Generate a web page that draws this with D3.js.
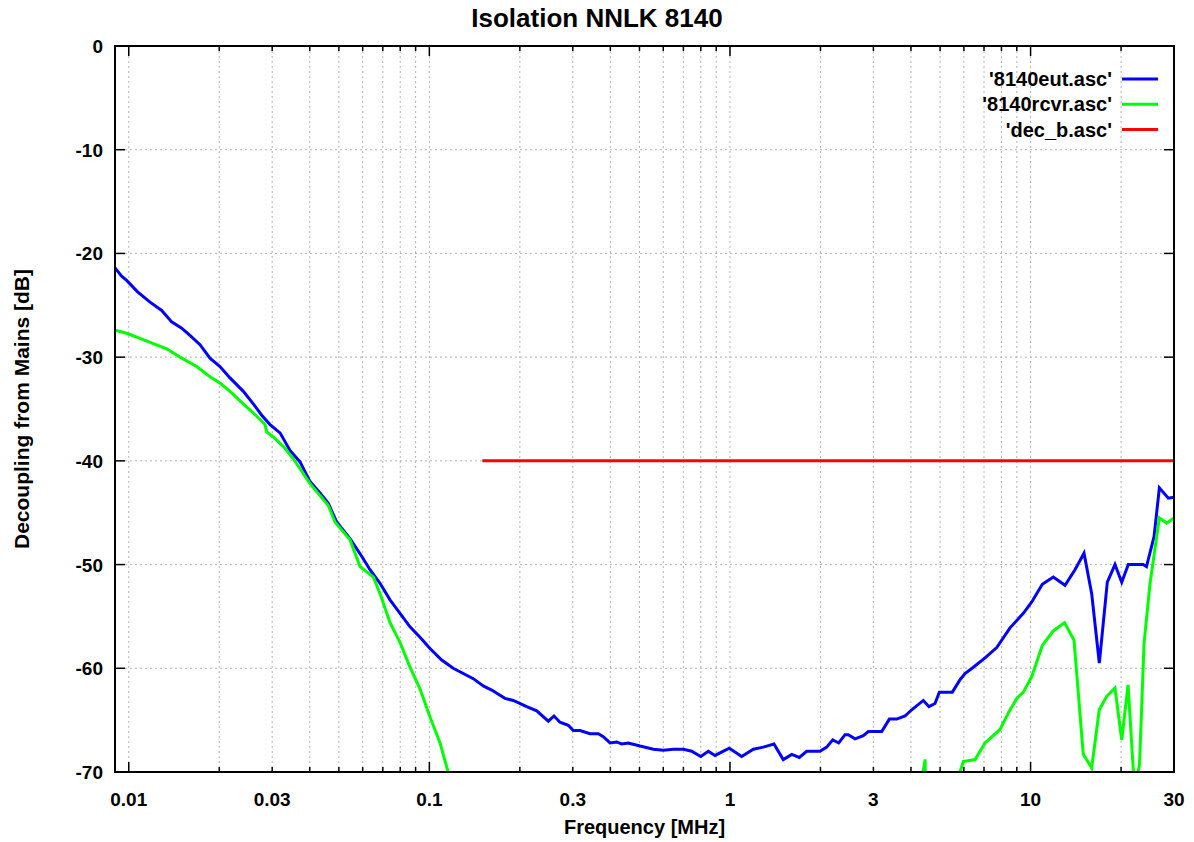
<!DOCTYPE html>
<html>
<head>
<meta charset="utf-8">
<script src="https://cdn.jsdelivr.net/npm/d3@7"></script>
<style>
  body { margin: 0; background: #fff; }
  text { font-family: "Liberation Sans", Arial, sans-serif; font-weight: bold; fill: #000; }
</style>
</head>
<body>
<div id="chart"></div>
<script>
// ---- data (frequency in MHz, level in dB) ----
const eutFreq = [0.009, 0.00947, 0.00984, 0.0107, 0.01177, 0.01287, 0.01389, 0.0150, 0.01598, 0.01726,
  0.01863, 0.02011, 0.02172, 0.02405, 0.02596, 0.02769, 0.02951, 0.03186, 0.03439, 0.03713,
  0.04009, 0.04328, 0.04612, 0.04918, 0.05445, 0.05955, 0.06346, 0.06852, 0.07398, 0.07987,
  0.08622, 0.09309, 0.1005, 0.1099, 0.1201, 0.1400, 0.1511, 0.1612, 0.1784, 0.1902,
  0.2108, 0.2276, 0.2487, 0.2598, 0.2720, 0.2899, 0.3012, 0.3170, 0.3422, 0.3648,
  0.3790, 0.3990, 0.4200, 0.4364, 0.4590, 0.5022, 0.5559, 0.6002, 0.6479, 0.6995,
  0.7461, 0.7993, 0.8472, 0.8917, 0.9949, 1.094, 1.196, 1.291, 1.401, 1.504,
  1.605, 1.701, 1.800, 1.993, 2.098, 2.197, 2.300, 2.414, 2.476, 2.606,
  2.777, 2.886, 3.198, 3.390, 3.587, 3.822, 4.023, 4.397, 4.594, 4.810,
  4.971, 5.492, 5.825, 6.052, 6.450, 7.055, 7.717, 8.543, 9.459, 10.09,
  10.94, 11.90, 13.02, 14.05, 15.06, 15.97, 16.93, 18.00, 19.09, 20.10,
  21.14, 23.7, 24.3, 25.75, 26.82, 28.72, 30];
const eutDb = [-21.4, -22.2, -22.6, -23.7, -24.7, -25.5, -26.6, -27.2, -27.9, -28.8,
  -30.1, -30.9, -32.0, -33.3, -34.5, -35.6, -36.5, -37.3, -39.0, -40.1,
  -42.0, -43.1, -44.1, -45.9, -47.5, -49.2, -50.5, -51.8, -53.4, -54.7,
  -56.0, -57.0, -58.1, -59.2, -60.0, -61.0, -61.7, -62.1, -62.9, -63.1,
  -63.7, -64.1, -65.1, -64.6, -65.2, -65.5, -66.0, -66.0, -66.3, -66.3,
  -66.6, -67.2, -67.1, -67.3, -67.2, -67.5, -67.8, -67.9, -67.8, -67.8,
  -68.0, -68.5, -68.0, -68.4, -67.7, -68.5, -67.8, -67.6, -67.3, -68.8,
  -68.3, -68.6, -68.0, -68.0, -67.6, -66.9, -67.2, -66.4, -66.4, -66.8,
  -66.5, -66.1, -66.1, -64.9, -64.9, -64.6, -64.0, -63.1, -63.7, -63.4,
  -62.3, -62.3, -61.1, -60.5, -59.9, -59.0, -58.0, -56.1, -54.7, -53.6,
  -51.9, -51.2, -52.0, -50.5, -48.9, -52.8, -59.5, -51.7, -50.0, -51.7,
  -50.0, -50.0, -50.2, -47.3, -42.6, -43.6, -43.5];

const rcvrFreq = [0.009, 0.00984, 0.0109, 0.01207, 0.01337, 0.01481, 0.01683, 0.01863, 0.02011, 0.02172,
  0.02405, 0.02665, 0.0284, 0.02877, 0.03025, 0.03266, 0.03527, 0.04009, 0.04612, 0.04854,
  0.05445, 0.05879, 0.06509, 0.06852, 0.07398, 0.07987, 0.08622, 0.09309, 0.1005, 0.1085,
  0.122, 4.30, 4.46, 4.47, 5.6, 5.975, 6.535, 7.055, 7.913, 8.433,
  8.993, 9.461, 10.09, 10.94, 11.90, 12.97, 13.95, 14.97, 15.97, 16.92,
  17.92, 19.09, 20.10, 21.10, 22.2, 23.04, 23.85, 24.97, 26.82, 28.37, 30];
const rcvrDb = [-27.4, -27.7, -28.2, -28.7, -29.2, -30.0, -30.9, -31.9, -32.5, -33.3,
  -34.5, -35.7, -36.5, -37.2, -37.7, -38.6, -39.8, -42.2, -44.3, -45.9,
  -47.6, -50.2, -51.2, -52.8, -55.6, -57.5, -59.9, -62.0, -64.7, -67.2,
  -72.5, -71.5, -68.8, -72.0, -71.5, -69.0, -68.8, -67.2, -65.9, -64.3,
  -62.9, -62.3, -60.8, -57.8, -56.4, -55.6, -57.3, -68.3, -69.6, -64.0,
  -62.7, -61.9, -66.9, -61.6, -72.0, -69.2, -57.6, -51.8, -45.5, -46.0, -45.5];

const decFreq = [0.15, 30];
const decDb = [-40, -40];

const seriesNames = ["'8140eut.asc'", "'8140rcvr.asc'", "'dec_b.asc'"];
const seriesColors = ["#0000ff", "#00ff00", "#ff0000"];

const yTicks = [0, -10, -20, -30, -40, -50, -60, -70];
const xLabelTicks = [0.01, 0.03, 0.1, 0.3, 1, 3, 10, 30];
const xMajorTicks = [0.01, 0.1, 1, 10];

// ---- layout ----
const width = 1194, height = 842;
const box = { left: 115, right: 1174, top: 46, bottom: 772 };

const svg = d3.select("#chart").append("svg")
  .attr("width", width)
  .attr("height", height);

const x = d3.scaleLog().domain([0.009, 30]).range([box.left, box.right]);
const y = d3.scaleLinear().domain([-70, 0]).range([box.bottom, box.top]);

// minor positions 1..9 per decade inside the domain
const xMinor = [];
[0.001, 0.01, 0.1, 1, 10].forEach(dec => {
  for (let k = 1; k <= 9; k++) {
    const v = +(dec * k).toPrecision(3);
    if (v > 0.009 && v < 30) xMinor.push(v);
  }
});

// grid
const grid = svg.append("g")
  .attr("stroke", "#b4b4b4")
  .attr("stroke-width", 1)
  .attr("stroke-dasharray", "2,3");
xMinor.forEach(v => {
  grid.append("line")
    .attr("x1", x(v)).attr("x2", x(v))
    .attr("y1", box.top).attr("y2", box.bottom);
});
yTicks.filter(v => v !== 0 && v !== -70).forEach(v => {
  grid.append("line")
    .attr("x1", box.left).attr("x2", box.right)
    .attr("y1", y(v)).attr("y2", y(v));
});

// tick marks (inward, mirrored)
const ticks = svg.append("g").attr("stroke", "#000").attr("stroke-width", 1.5);
xMinor.forEach(v => {
  const len = xMajorTicks.includes(v) ? 10 : 5;
  ticks.append("line").attr("x1", x(v)).attr("x2", x(v)).attr("y1", box.bottom).attr("y2", box.bottom - len);
  ticks.append("line").attr("x1", x(v)).attr("x2", x(v)).attr("y1", box.top).attr("y2", box.top + len);
});
yTicks.forEach(v => {
  ticks.append("line").attr("x1", box.left).attr("x2", box.left + 10).attr("y1", y(v)).attr("y2", y(v));
  ticks.append("line").attr("x1", box.right).attr("x2", box.right - 10).attr("y1", y(v)).attr("y2", y(v));
});

// tick labels
svg.append("g").selectAll("text")
  .data(xLabelTicks)
  .enter().append("text")
  .attr("x", d => x(d))
  .attr("y", box.bottom + 34)
  .attr("text-anchor", "middle")
  .attr("font-size", 19)
  .text(d => d3.format("~g")(d));

svg.append("g").selectAll("text")
  .data(yTicks)
  .enter().append("text")
  .attr("x", box.left - 12)
  .attr("y", d => y(d) + 7)
  .attr("text-anchor", "end")
  .attr("font-size", 19)
  .text(d => d);

// titles
svg.append("text")
  .attr("x", width / 2)
  .attr("y", 27)
  .attr("text-anchor", "middle")
  .attr("font-size", 26)
  .text("Isolation NNLK 8140");

svg.append("text")
  .attr("x", (box.left + box.right) / 2)
  .attr("y", 834)
  .attr("text-anchor", "middle")
  .attr("font-size", 20)
  .text("Frequency [MHz]");

svg.append("text")
  .attr("transform", `translate(29,${(box.top + box.bottom) / 2}) rotate(-90)`)
  .attr("text-anchor", "middle")
  .attr("font-size", 21)
  .text("Decoupling from Mains [dB]");

// data lines, clipped to the plot box
svg.append("clipPath").attr("id", "plotclip")
  .append("rect")
  .attr("x", box.left).attr("y", box.top)
  .attr("width", box.right - box.left).attr("height", box.bottom - box.top);

const line = d3.line()
  .x(d => x(d[0]))
  .y(d => y(d[1]));

const series = [
  d3.zip(eutFreq, eutDb),
  d3.zip(rcvrFreq, rcvrDb),
  d3.zip(decFreq, decDb)
];

const plot = svg.append("g").attr("clip-path", "url(#plotclip)");
series.forEach((s, i) => {
  plot.append("path")
    .datum(s)
    .attr("fill", "none")
    .attr("stroke", seriesColors[i])
    .attr("stroke-width", 3)
    .attr("d", line);
});

// border
svg.append("rect")
  .attr("x", box.left).attr("y", box.top)
  .attr("width", box.right - box.left).attr("height", box.bottom - box.top)
  .attr("fill", "none")
  .attr("stroke", "#000")
  .attr("stroke-width", 2);

// legend
const legend = svg.append("g");
seriesNames.forEach((name, i) => {
  const ly = 79 + i * 25.3;
  legend.append("text")
    .attr("x", 1112)
    .attr("y", ly + 7)
    .attr("text-anchor", "end")
    .attr("font-size", 20)
    .text(name);
  legend.append("line")
    .attr("x1", 1122).attr("x2", 1158)
    .attr("y1", ly).attr("y2", ly)
    .attr("stroke", seriesColors[i])
    .attr("stroke-width", 3);
});
</script>
</body>
</html>
